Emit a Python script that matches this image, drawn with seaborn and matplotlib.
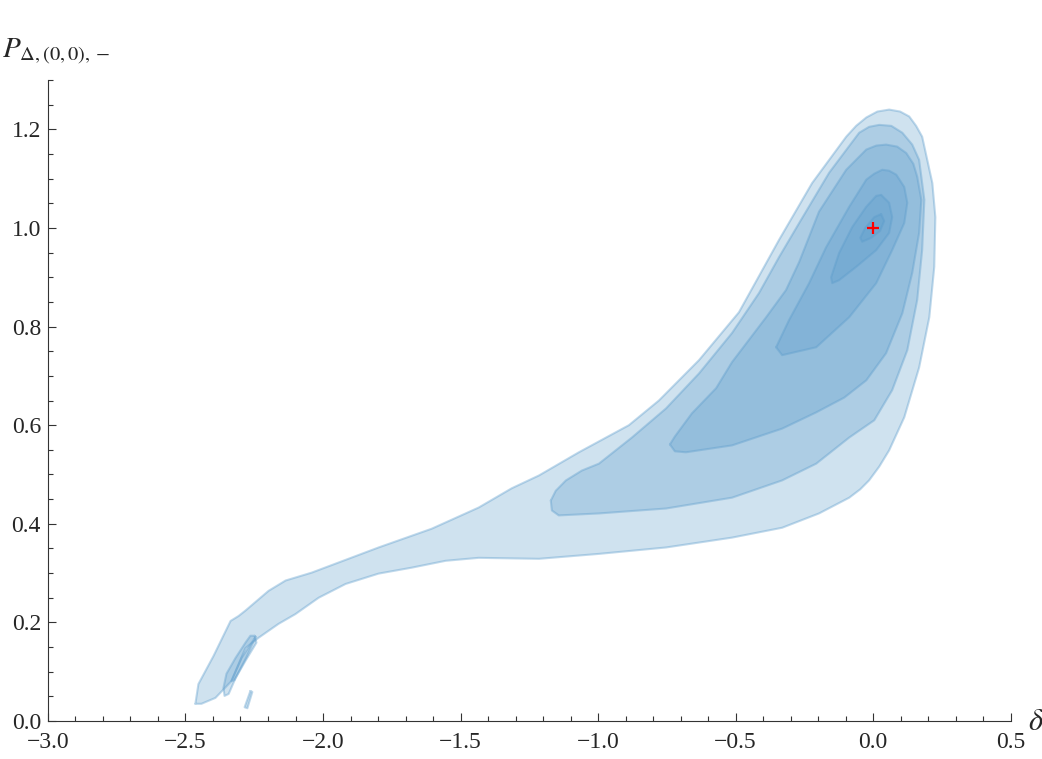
import matplotlib
matplotlib.use("Agg")
import matplotlib.pyplot as plt
from matplotlib.ticker import MultipleLocator, FixedLocator
import seaborn as sns
import pandas as pd

# ---- contour outlines (data coordinates: delta, P) ----
lvl1_x = [-2.464, -2.453, -2.398, -2.336, -2.307, -2.282, -2.198, -2.136, -2.041, -1.798,
          -1.605, -1.434, -1.314, -1.215, -1.070, -0.888, -0.779, -0.633, -0.488, -0.342,
          -0.222, -0.098, -0.062, -0.025, 0.015, 0.058, 0.098, 0.131, 0.156, 0.178,
          0.215, 0.226, 0.222, 0.204, 0.167, 0.113, 0.058, 0.022, -0.015, -0.047,
          -0.087, -0.197, -0.331, -0.513, -0.753, -0.997, -1.215, -1.434, -1.554, -1.678,
          -1.798, -1.918, -2.016, -2.100, -2.162, -2.234, -2.282, -2.333, -2.391, -2.442]
lvl1_y = [0.035, 0.075, 0.132, 0.203, 0.213, 0.224, 0.264, 0.285, 0.301, 0.352,
          0.390, 0.433, 0.472, 0.498, 0.545, 0.600, 0.650, 0.732, 0.829, 0.976,
          1.091, 1.185, 1.207, 1.224, 1.236, 1.240, 1.236, 1.226, 1.207, 1.185,
          1.091, 1.022, 0.921, 0.819, 0.717, 0.616, 0.549, 0.516, 0.488, 0.470,
          0.453, 0.421, 0.392, 0.372, 0.352, 0.339, 0.329, 0.331, 0.325, 0.311,
          0.299, 0.278, 0.250, 0.217, 0.197, 0.169, 0.148, 0.081, 0.047, 0.035]

lvl2_x = [-1.172, -1.154, -1.117, -1.059, -0.997, -0.877, -0.753, -0.633, -0.513, -0.415,
          -0.342, -0.269, -0.160, -0.051, -0.015, 0.022, 0.066, 0.106, 0.142, 0.167,
          0.186, 0.178, 0.160, 0.124, 0.069, 0.004, -0.087, -0.207, -0.331, -0.513,
          -0.753, -0.997, -1.143, -1.168]
lvl2_y = [0.447, 0.467, 0.488, 0.508, 0.522, 0.575, 0.634, 0.705, 0.787, 0.868,
          0.941, 1.010, 1.112, 1.193, 1.205, 1.209, 1.207, 1.193, 1.169, 1.138,
          1.057, 0.955, 0.854, 0.752, 0.671, 0.610, 0.575, 0.522, 0.488, 0.453,
          0.431, 0.421, 0.417, 0.427]

lvl3_x = [-0.739, -0.721, -0.659, -0.571, -0.513, -0.389, -0.317, -0.269, -0.197, -0.098,
          -0.025, 0.011, 0.047, 0.087, 0.120, 0.146, 0.160, 0.175, 0.167, 0.142,
          0.106, 0.047, -0.025, -0.105, -0.207, -0.331, -0.513, -0.681, -0.721]
lvl3_y = [0.561, 0.577, 0.624, 0.675, 0.728, 0.819, 0.874, 0.931, 1.033, 1.118,
          1.159, 1.167, 1.169, 1.165, 1.152, 1.130, 1.104, 1.057, 0.990, 0.909,
          0.827, 0.746, 0.691, 0.656, 0.626, 0.593, 0.559, 0.545, 0.547]

lvl4_x = [-0.353, -0.306, -0.233, -0.171, -0.087, -0.025, 0.004, 0.033, 0.058, 0.084,
          0.113, 0.124, 0.113, 0.069, 0.011, -0.087, -0.207, -0.331]
lvl4_y = [0.758, 0.813, 0.888, 0.961, 1.043, 1.098, 1.110, 1.118, 1.116, 1.108,
          1.083, 1.051, 1.010, 0.955, 0.888, 0.819, 0.758, 0.742]

lvl5_x = [0.029, 0.058, 0.069, 0.058, 0.011, -0.062, -0.124, -0.149, -0.153, -0.124,
          -0.076, -0.025, 0.011]
lvl5_y = [1.067, 1.051, 1.022, 0.990, 0.955, 0.921, 0.894, 0.888, 0.900, 0.949,
          1.002, 1.043, 1.065]

lvl6_x = [0.029, 0.040, 0.025, -0.007, -0.040, -0.047, -0.029, 0.004]
lvl6_y = [1.028, 1.014, 0.994, 0.980, 0.972, 0.980, 1.000, 1.022]

loop_x = [-2.249, -2.242, -2.282, -2.318, -2.343, -2.358, -2.362, -2.351, -2.318, -2.282, -2.264]
loop_y = [0.173, 0.159, 0.122, 0.087, 0.055, 0.051, 0.067, 0.096, 0.128, 0.159, 0.173]

loop2_x = [-2.245, -2.296, -2.333, -2.322, -2.278]
loop2_y = [0.171, 0.128, 0.081, 0.083, 0.130]

sliver_x = [-2.264, -2.257, -2.275, -2.285]
sliver_y = [0.061, 0.059, 0.026, 0.028]

best_x = [0.0]
best_y = [1.0]

x_ticks = [-3.0, -2.5, -2.0, -1.5, -1.0, -0.5, 0.0, 0.5]
y_ticks = [0.0, 0.2, 0.4, 0.6, 0.8, 1.0, 1.2]

# ---- style ----
sns.set_theme(style="ticks")
plt.rcParams['font.family'] = ['Liberation Serif', 'DejaVu Serif']
plt.rcParams['mathtext.fontset'] = 'stix'
plt.rcParams['axes.unicode_minus'] = True

fig = plt.figure(figsize=(10.42, 7.59), dpi=100)
ax = fig.add_axes([0.046, 0.050, 0.924, 0.8446])

base = (90 / 255, 155 / 255, 203 / 255)
fill_alpha = 0.29
edge_col = (90 / 255, 155 / 255, 203 / 255, 0.38)

shapes = [(lvl1_x, lvl1_y), (loop_x, loop_y), (loop2_x, loop2_y), (sliver_x, sliver_y),
          (lvl2_x, lvl2_y), (lvl3_x, lvl3_y), (lvl4_x, lvl4_y), (lvl5_x, lvl5_y),
          (lvl6_x, lvl6_y)]
for xs, ys in shapes:
    ax.fill(xs, ys, facecolor=base, alpha=fill_alpha, edgecolor='none', zorder=2)
    df = pd.DataFrame({"x": list(xs) + [xs[0]], "y": list(ys) + [ys[0]],
                       "o": range(len(xs) + 1)})
    sns.lineplot(data=df, x="x", y="y", sort=False, estimator=None, ax=ax,
                 color=edge_col, lw=1.5, zorder=3, solid_joinstyle='round')

sns.scatterplot(x=best_x, y=best_y, marker='+', color='red', s=70,
                linewidth=1.6, ax=ax, zorder=5)

ax.set_xlim(-3.0, 0.5)
ax.set_ylim(0.0, 1.3)
ax.xaxis.set_major_locator(FixedLocator(x_ticks))
ax.yaxis.set_major_locator(FixedLocator(y_ticks))
ax.xaxis.set_minor_locator(MultipleLocator(0.1))
ax.yaxis.set_minor_locator(MultipleLocator(0.05))
ax.set_xticklabels([f"{v:.1f}".replace('-', '\u2212') for v in x_ticks])
ax.set_yticklabels([f"{v:.1f}" for v in y_ticks])
ax.tick_params(which='both', direction='in', color='#333333', width=0.8,
               top=False, right=False)
ax.tick_params(which='major', length=6, labelsize=17)
ax.tick_params(axis='x', which='major', pad=8)
ax.tick_params(axis='y', which='major', pad=5)
ax.tick_params(which='minor', length=3.6)
for s in ['top', 'right']:
    ax.spines[s].set_visible(False)
for s in ['left', 'bottom']:
    ax.spines[s].set_linewidth(0.8)
    ax.spines[s].set_color('#333333')
ax.set_xlabel('')
ax.set_ylabel('')

fig.text(1028 / 1042, 1 - 722 / 759, r'$\delta$', fontsize=22, ha='left', va='center')
fig.text(2 / 1042, 1 - 52 / 759, r'$P_{\Delta,(0,0),-}$', fontsize=21, ha='left', va='center')

fig.savefig('out.png', dpi=100)
